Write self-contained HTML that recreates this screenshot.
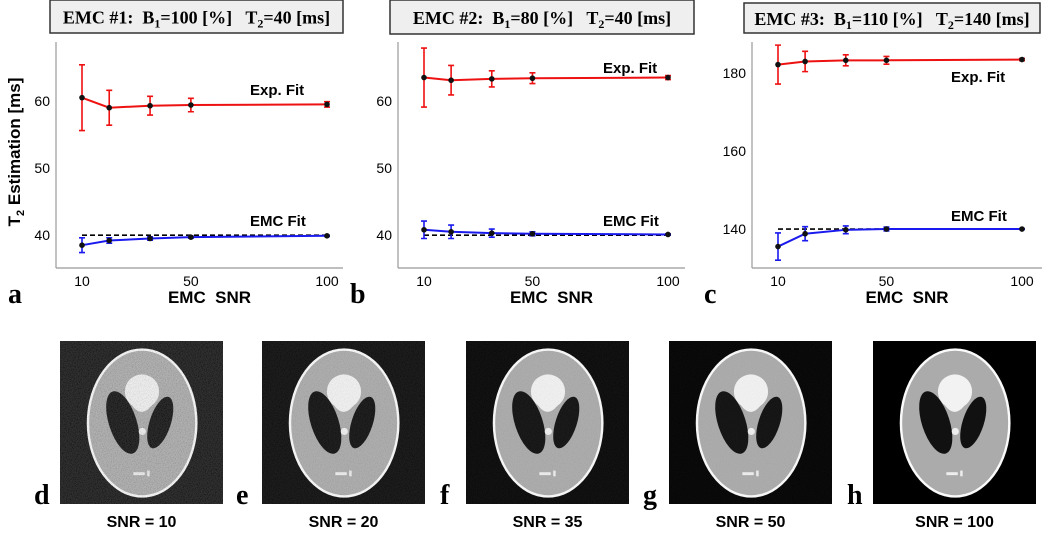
<!DOCTYPE html>
<html><head><meta charset="utf-8">
<style>
body{margin:0;background:#fff;width:1050px;height:529px;overflow:hidden;font-family:"Liberation Sans",sans-serif}
</style></head>
<body>
<svg id="fig" width="1050" height="529" viewBox="0 0 1050 529" xmlns="http://www.w3.org/2000/svg" font-family="Liberation Sans, sans-serif">
<defs>
<filter id="noise" x="0" y="0" width="100%" height="100%">
<feTurbulence type="fractalNoise" baseFrequency="1.2" numOctaves="1" seed="3" result="t"/>
<feColorMatrix type="matrix" values="2 0 0 0 -0.6  2 0 0 0 -0.6  2 0 0 0 -0.6  0 0 0 0 1"/>
</filter>
</defs>
<g id="charts"></g>
<g id="phantoms"></g>
<text x="20" y="152" transform="rotate(-90 20 152)" text-anchor="middle" font-size="17" font-weight="bold">T<tspan font-size="11" dy="4">2</tspan><tspan dy="-4"> Estimation  [ms]</tspan></text>
</svg>
<script>
const snr = [10, 20, 35, 50, 100];
const expA = [60.5, 59.0, 59.3, 59.4, 59.5];
const expErrA = [4.9, 2.6, 1.4, 1.0, 0.4];
const emcA = [38.5, 39.2, 39.5, 39.7, 39.9];
const emcErrA = [1.1, 0.4, 0.25, 0.15, 0.1];
const expB = [63.5, 63.1, 63.3, 63.4, 63.5];
const expErrB = [4.4, 2.2, 1.2, 0.8, 0.3];
const emcB = [40.8, 40.5, 40.3, 40.2, 40.1];
const emcErrB = [1.3, 1.0, 0.6, 0.3, 0.1];
const expC = [182.2, 183.0, 183.3, 183.3, 183.5];
const expErrC = [5.0, 2.6, 1.4, 1.0, 0.3];
const emcC = [135.5, 138.8, 139.8, 140.0, 140.0];
const emcErrC = [3.5, 1.8, 1.0, 0.5, 0.1];
const trueT2 = [40, 40, 140];
const yTicksAB = [40, 50, 60];
const yTicksC = [140, 160, 180];
const xTicks = [10, 50, 100];
const panelLetters = ['a','b','c'];
const phantomSNR = [10, 20, 35, 50, 100];
const phantomLetters = ['d','e','f','g','h'];

const NS = 'http://www.w3.org/2000/svg';
const SERIF = 'Liberation Serif, serif';
function mk(tag, attrs, parent){const e=document.createElementNS(NS,tag);for(const k in attrs)e.setAttribute(k,attrs[k]);if(parent)parent.appendChild(e);return e;}

const panels = [
 {x0:56,x1:343,px10:82,px100:327,ymin:35.1,ymax:68.8,yt:yTicksAB,exp:expA,ee:expErrA,emc:emcA,me:emcErrA,t:trueT2[0],box:[50,0,293,33],title:['EMC #1:  B','1','=100 [%]   T','2','=40 [ms]'],expLab:[250,95],emcLab:[250,226]},
 {x0:398,x1:685,px10:424,px100:668,ymin:35.1,ymax:68.8,yt:yTicksAB,exp:expB,ee:expErrB,emc:emcB,me:emcErrB,t:trueT2[1],box:[390,0,304,34],title:['EMC #2:  B','1','=80 [%]   T','2','=40 [ms]'],expLab:[603,73],emcLab:[603,226]},
 {x0:752,x1:1042,px10:778,px100:1022,ymin:130,ymax:188,yt:yTicksC,exp:expC,ee:expErrC,emc:emcC,me:emcErrC,t:trueT2[2],box:[744,3,296,30],title:['EMC #3:  B','1','=110 [%]   T','2','=140 [ms]'],expLab:[951,82],emcLab:[951,221]}
];
const Y0=42,Y1=268;
const charts=document.getElementById('charts');
panels.forEach((p,i)=>{
 const g=mk('g',{},charts);
 
 
 const sx=v=>p.px10+(v-10)*(p.px100-p.px10)/90;
 const sy=v=>Y1-(v-p.ymin)*(Y1-Y0)/(p.ymax-p.ymin);
 const box=mk('rect',{x:p.box[0],y:p.box[1],width:p.box[2],height:p.box[3],fill:'#efefef',stroke:'#333','stroke-width':1.5},g);
 
 
 const tt=mk('text',{x:p.box[0]+p.box[2]/2,y:p.box[1]+p.box[3]/2+7,'text-anchor':'middle','font-size':18,'font-weight':'bold','font-family':SERIF,style:'white-space:pre'},g);
 
 
 p.title.forEach((s,k)=>{const ts=mk('tspan',k%2?{'font-size':12,dy:4}:(k>0?{dy:-4}:{}),tt);ts.textContent=s;});
 mk('line',{x1:p.x0,y1:Y0,x2:p.x0,y2:Y1,stroke:'#999','stroke-width':1.2},g);
 mk('line',{x1:p.x0,y1:Y1,x2:p.x1,y2:Y1,stroke:'#999','stroke-width':1.2},g);
 p.yt.forEach(v=>{const t=mk('text',{x:p.x0-6,y:sy(v)+5,'text-anchor':'end','font-size':14},g);t.textContent=v;
  });
 xTicks.forEach(v=>{const t=mk('text',{x:sx(v),y:Y1+18,'text-anchor':'middle','font-size':14},g);t.textContent=v;
  });
 const xl=mk('text',{x:(p.x0+p.x1)/2+10,y:303,'text-anchor':'middle','font-size':17,'font-weight':'bold',style:'white-space:pre'},g);xl.textContent='EMC  SNR';
 
 const pl=mk('text',{x:p.x0-48,y:303,'font-size':28,'font-weight':'bold','font-family':SERIF},g);pl.textContent=panelLetters[i];
 
 const tl=mk('line',{x1:sx(snr[0]),x2:sx(snr[snr.length-1]),y1:sy(p.t),y2:sy(p.t),stroke:'#000','stroke-width':1.6,'stroke-dasharray':'5,3'},g);
 
 [[p.exp,p.ee,'#ee1111','exp-fit'],[p.emc,p.me,'#1a1aee','emc-fit']].forEach(([vals,errs,col,nm])=>{
  const sg=mk('g',{},g);
  
  
  mk('polyline',{points:vals.map((v,k)=>sx(snr[k])+','+sy(v)).join(' '),fill:'none',stroke:col,'stroke-width':2},sg);
  vals.forEach((v,k)=>{const x=sx(snr[k]);
   const e=mk('path',{d:`M${x},${sy(v-errs[k])}V${sy(v+errs[k])}M${x-3},${sy(v-errs[k])}h6M${x-3},${sy(v+errs[k])}h6`,stroke:col,'stroke-width':1.6,fill:'none'},sg);
   
   const c=mk('circle',{cx:x,cy:sy(v),r:2.8,fill:'#111'},sg);
   
  });
 });
 const el=mk('text',{x:p.expLab[0],y:p.expLab[1],'font-size':15,'font-weight':'bold'},g);el.textContent='Exp. Fit';
 
 const ml=mk('text',{x:p.emcLab[0],y:p.emcLab[1],'font-size':15,'font-weight':'bold'},g);ml.textContent='EMC Fit';
 
});

const ph=document.getElementById('phantoms');
const px=[60,262,466,669,873];
phantomSNR.forEach((s,i)=>{
 const g=mk('g',{transform:`translate(${px[i]},341)`},ph);
 
 
 const W=163;
 const bgc=['#161616','#0e0e0e','#080808','#040404','#000'][i];
 mk('rect',{width:W,height:W,fill:bgc},g);
 mk('ellipse',{cx:W*0.504,cy:W*0.503,rx:W*0.34,ry:W*0.458,fill:'#fafafa'},g);
 mk('ellipse',{cx:W*0.504,cy:W*0.503,rx:W*0.325,ry:W*0.443,fill:'#ababab'},g);
 mk('circle',{cx:W*0.503,cy:W*0.31,r:W*0.105,fill:'#f2f2f2'},g);
 mk('path',{d:`M${W*0.415},${W*0.35}Q${W*0.5},${W*0.52} ${W*0.59},${W*0.35}Z`,fill:'#f2f2f2'},g);
 mk('ellipse',{cx:W*0.385,cy:W*0.5,rx:W*0.085,ry:W*0.2,fill:'#111',transform:`rotate(-18 ${W*0.385} ${W*0.5})`},g);
 mk('ellipse',{cx:W*0.615,cy:W*0.5,rx:W*0.065,ry:W*0.165,fill:'#111',transform:`rotate(18 ${W*0.615} ${W*0.5})`},g);
 mk('circle',{cx:W*0.505,cy:W*0.555,r:W*0.022,fill:'#eee'},g);
 mk('rect',{x:W*0.45,y:W*0.805,width:W*0.07,height:W*0.018,fill:'#eee'},g);
 mk('rect',{x:W*0.535,y:W*0.795,width:W*0.015,height:W*0.035,fill:'#eee'},g);
 const op=[0.14,0.08,0.05,0.03,0][i];
 if(op>0) mk('rect',{width:W,height:W,filter:'url(#noise)',opacity:op},g);
 const l=mk('text',{x:-26,y:W,'font-size':28,'font-weight':'bold','font-family':SERIF},g);l.textContent=phantomLetters[i];
 
 const c=mk('text',{x:W/2,y:W+23,'text-anchor':'middle','font-size':16,'font-weight':'bold'},g);c.textContent='SNR = '+s;
 
});
</script>
</body></html>
